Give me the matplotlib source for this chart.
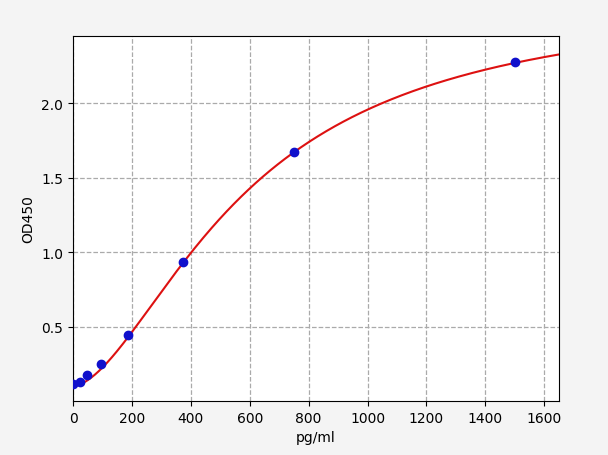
import numpy as np
import matplotlib
matplotlib.use("Agg")
import matplotlib.pyplot as plt

conc = [0, 23.4, 46.9, 93.75, 187.5, 375, 750, 1500]
od = [0.115, 0.125, 0.175, 0.25, 0.445, 0.93, 1.67, 2.275]

# 4PL fit parameters (bottom, top, inflection, slope)
A, D, C, B = 0.1, 2.72, 591.0, 1.687

fig = plt.figure(figsize=(6.08, 4.56), dpi=100, facecolor="#f4f4f4")
ax = fig.add_axes([73/608, 1-402/456, (559-73)/608, (402-37)/456])
x = np.linspace(0, 1650, 400)
y = D + (A - D) / (1 + (x / C) ** B)
ax.plot(x, y, color="#dd1111", lw=1.5, zorder=2)
ax.scatter(conc, od, color="#1010cc", s=36, zorder=3)
ax.set_xlim(0, 1650)
ax.set_ylim(0, 2.45)
ax.set_xticks(range(0, 1601, 200))
ax.set_yticks([0.5, 1.0, 1.5, 2.0])
ax.grid(True, linestyle="--", color="#aaaaaa", lw=0.9)
ax.set_xlabel("pg/ml")
ax.set_ylabel("OD450")
fig.savefig("out.png", dpi=100, facecolor=fig.get_facecolor())
